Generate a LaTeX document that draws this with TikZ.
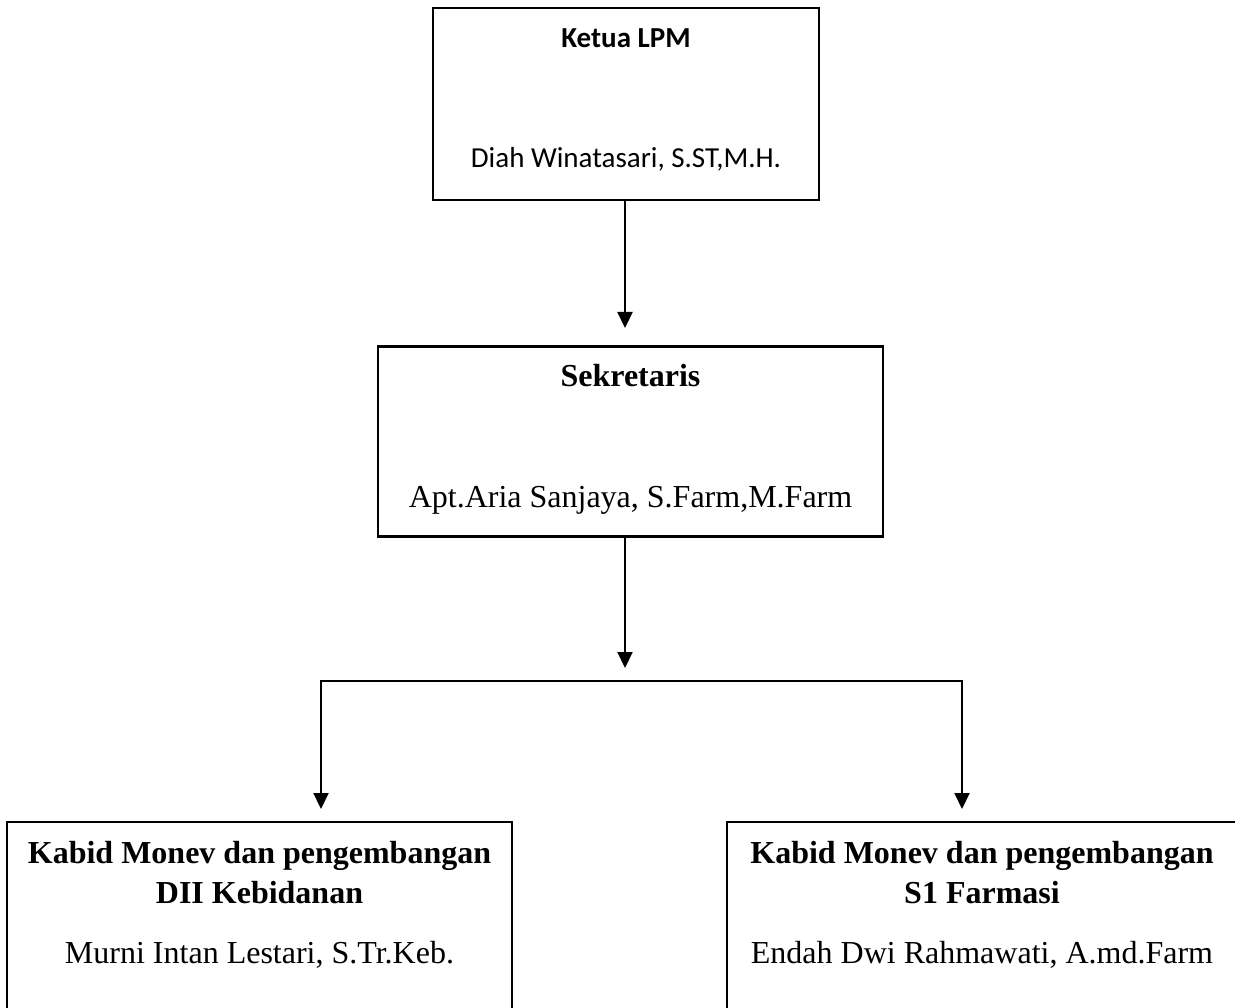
\documentclass[tikz,border=0pt]{standalone}
\usepackage{fontspec}
\setmainfont{Liberation Serif}
\newfontfamily\carlito{Carlito}
\usetikzlibrary{arrows.meta}

\tikzset{
  kotak/.style={draw, line width=2.2pt, rectangle, inner sep=0pt},
  ujungpanah/.style={Triangle[width=15pt,length=16pt]},
  panah/.style={line width=2.2pt, -{Triangle[width=15pt,length=16pt]}},
  judul/.style={anchor=base, inner sep=0pt, font=\fontsize{32}{38}\selectfont\bfseries},
  nama/.style={anchor=base, inner sep=0pt, font=\fontsize{32}{38}\selectfont},
  judulsans/.style={anchor=base, inner sep=0pt, font=\carlito\fontsize{29}{35}\selectfont\bfseries},
  namasans/.style={anchor=base, inner sep=0pt, font=\carlito\fontsize{29}{35}\selectfont},
}

\begin{document}
\begin{tikzpicture}[x=1pt,y=1pt,yscale=-1,xscale=1]
\useasboundingbox (0,0) rectangle (1235,1008);
\clip (0,0) rectangle (1235,1008);

%Shape: Rectangle (ketua)
\node [kotak, minimum width=386, minimum height=192] (ketua) at (626,104) {};
%Shape: Rectangle (sekretaris)
\node [kotak, minimum width=505, minimum height=190] (sekretaris) at (630.5,441.5) {};
%Shape: Rectangle (kabid DII)
\node [kotak, minimum width=505, minimum height=200] (kabidA) at (259.5,922) {};
%Shape: Rectangle (kabid S1)
\node [kotak, minimum width=510, minimum height=200] (kabidB) at (982,922) {};

% Text Node
\node [judulsans] (ketuaT) at (626,48) {Ketua LPM};
% Text Node
\node [namasans] (ketuaN) at (626,168) {Diah Winatasari, S.ST,M.H.};
% Text Node
\node [judul] (sekT) at (630.5,387) {Sekretaris};
% Text Node
\node [nama] (sekN) at (630.5,507) {Apt.Aria Sanjaya, S.Farm,M.Farm};
% Text Node
\node [judul] (kabidAT) at (259.5,863) {Kabid Monev dan pengembangan};
\node [judul] (kabidAS) at (259.5,903) {DII Kebidanan};
\node [nama] (kabidAN) at (259.5,963) {Murni Intan Lestari, S.Tr.Keb.};
% Text Node
\node [judul] (kabidBT) at (982,863) {Kabid Monev dan pengembangan};
\node [judul] (kabidBS) at (982,903) {S1 Farmasi};
\node [nama] (kabidBN) at (982,963) {Endah Dwi Rahmawati, A.md.Farm};

%Straight Lines
\coordinate (ujung1) at (625,328);
\coordinate (ujung2) at (625,668);
\coordinate (cabangA) at (321,681);
\coordinate (cabangB) at (962,681);
\coordinate (ujungA) at (321,809);
\coordinate (ujungB) at (962,809);

\draw [panah] (ketua.south -| ujung1) -- (ujung1);
\draw [panah] (sekretaris.south -| ujung2) -- (ujung2);
\draw [line width=2.2pt, {Triangle[width=15pt,length=16pt]}-{Triangle[width=15pt,length=16pt]}]
  (ujungA) -- (cabangA) -- (cabangB) -- (ujungB);
\end{tikzpicture}
\end{document}
